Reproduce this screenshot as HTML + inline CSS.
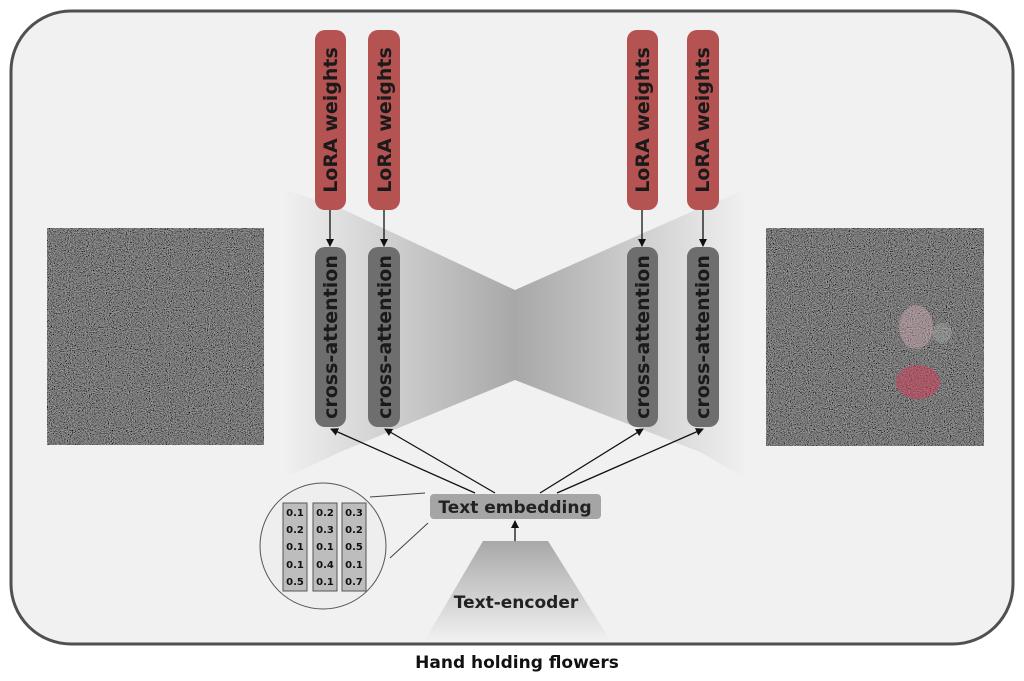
<!DOCTYPE html>
<html><head><style>
html,body{margin:0;padding:0;background:#fff;}
svg{display:block;}
text{font-family:"DejaVu Sans","Liberation Sans",sans-serif;font-weight:bold;}
</style></head><body>
<svg width="1024" height="681" viewBox="0 0 1024 681">
<defs>
<filter id="gnoise" x="0" y="0" width="100%" height="100%">
<feTurbulence type="fractalNoise" baseFrequency="0.95" numOctaves="2" seed="7" result="t"/>
<feColorMatrix in="t" type="matrix" values="0.33 0.33 0.33 0 0  0.33 0.33 0.33 0 0  0.33 0.33 0.33 0 0  0 0 0 0 1" result="g"/>
<feComponentTransfer in="g"><feFuncR type="linear" slope="1.4" intercept="-0.5"/><feFuncG type="linear" slope="1.4" intercept="-0.5"/><feFuncB type="linear" slope="1.4" intercept="-0.5"/></feComponentTransfer>
</filter>
<linearGradient id="gl" x1="0" x2="1" y1="0" y2="0"><stop offset="0" stop-color="#f0f0f0"/><stop offset="1" stop-color="#a8a8a8"/></linearGradient>
<linearGradient id="gr" x1="1" x2="0" y1="0" y2="0"><stop offset="0" stop-color="#f0f0f0"/><stop offset="1" stop-color="#a8a8a8"/></linearGradient>
<linearGradient id="ge" x1="0" x2="0" y1="0" y2="1"><stop offset="0" stop-color="#a8a8a8"/><stop offset="1" stop-color="#f0f0f0"/></linearGradient>
<marker id="ah" markerWidth="8" markerHeight="8" refX="7" refY="4" orient="auto" markerUnits="userSpaceOnUse"><path d="M0,0 L8,4 L0,8 z" fill="#111"/></marker>
</defs>
<rect x="11" y="11" width="1002" height="633" rx="60" fill="#f1f1f1" stroke="#505050" stroke-width="3"/>
<polygon points="285,190 340,208 515,290 515,380 340,452 285,478" fill="url(#gl)"/>
<polygon points="745,190 700,208 515,290 515,380 700,452 745,478" fill="url(#gr)"/>
<rect x="47" y="228" width="217" height="217" filter="url(#gnoise)"/>
<rect x="766" y="228" width="218" height="218" filter="url(#gnoise)"/>
<ellipse cx="916" cy="327" rx="17" ry="22" fill="#d9b0b8" opacity="0.4"/>
<ellipse cx="942" cy="333" rx="10" ry="10" fill="#c8d0c8" opacity="0.25"/>
<ellipse cx="918" cy="382" rx="22" ry="17" fill="#d0405a" opacity="0.55"/>
<g fill="#b55252">
<rect x="315" y="30" width="31" height="180" rx="10"/>
<rect x="368" y="30" width="32" height="180" rx="10"/>
<rect x="627" y="30" width="31" height="180" rx="10"/>
<rect x="687" y="30" width="32" height="180" rx="10"/>
</g>
<g fill="#6e6e6e">
<rect x="315" y="247" width="31" height="180" rx="10"/>
<rect x="368" y="247" width="32" height="180" rx="10"/>
<rect x="627" y="247" width="31" height="180" rx="10"/>
<rect x="687" y="247" width="32" height="180" rx="10"/>
</g>
<g font-size="19" fill="#1a1a1a" text-anchor="middle">
<text transform="translate(337,120) rotate(-90)">LoRA weights</text>
<text transform="translate(391,120) rotate(-90)">LoRA weights</text>
<text transform="translate(649,120) rotate(-90)">LoRA weights</text>
<text transform="translate(709,120) rotate(-90)">LoRA weights</text>
<text transform="translate(337,337) rotate(-90)">cross-attention</text>
<text transform="translate(391,337) rotate(-90)">cross-attention</text>
<text transform="translate(649,337) rotate(-90)">cross-attention</text>
<text transform="translate(709,337) rotate(-90)">cross-attention</text>
</g>
<g stroke="#111" stroke-width="1.3" marker-end="url(#ah)">
<line x1="330" y1="210" x2="330" y2="246"/>
<line x1="384" y1="210" x2="384" y2="246"/>
<line x1="642" y1="210" x2="642" y2="246"/>
<line x1="703" y1="210" x2="703" y2="246"/>
<line x1="475" y1="493" x2="331" y2="429"/>
<line x1="495" y1="493" x2="385" y2="429"/>
<line x1="540" y1="493" x2="643" y2="429"/>
<line x1="557" y1="493" x2="703" y2="429"/>
<line x1="515" y1="541" x2="515" y2="521"/>
</g>
<polygon points="483,541 548,541 610,640 425,640" fill="url(#ge)"/>
<text x="516" y="608" font-size="17" text-anchor="middle" fill="#222">Text-encoder</text>
<rect x="430" y="494" width="171" height="25" rx="4" fill="#a5a5a5"/>
<text x="515" y="513" font-size="17" text-anchor="middle" fill="#222">Text embedding</text>
<line x1="370" y1="497" x2="425" y2="493" stroke="#444" stroke-width="1"/>
<line x1="390" y1="558" x2="428" y2="523" stroke="#444" stroke-width="1"/>
<circle cx="323" cy="546" r="63" fill="#eeeeee" stroke="#555" stroke-width="1"/>
<g fill="#bdbdbd" stroke="#555" stroke-width="1">
<rect x="283" y="503" width="24" height="88"/>
<rect x="313" y="503" width="24" height="88"/>
<rect x="342" y="503" width="24" height="88"/>
</g>
<g font-size="10" fill="#111" text-anchor="middle">
<text x="295" y="516">0.1</text><text x="295" y="533">0.2</text><text x="295" y="550">0.1</text><text x="295" y="568">0.1</text><text x="295" y="585">0.5</text>
<text x="325" y="516">0.2</text><text x="325" y="533">0.3</text><text x="325" y="550">0.1</text><text x="325" y="568">0.4</text><text x="325" y="585">0.1</text>
<text x="354" y="516">0.3</text><text x="354" y="533">0.2</text><text x="354" y="550">0.5</text><text x="354" y="568">0.1</text><text x="354" y="585">0.7</text>
</g>
<text x="517" y="668" font-size="17" text-anchor="middle" fill="#111">Hand holding flowers</text>
</svg>
</body></html>
